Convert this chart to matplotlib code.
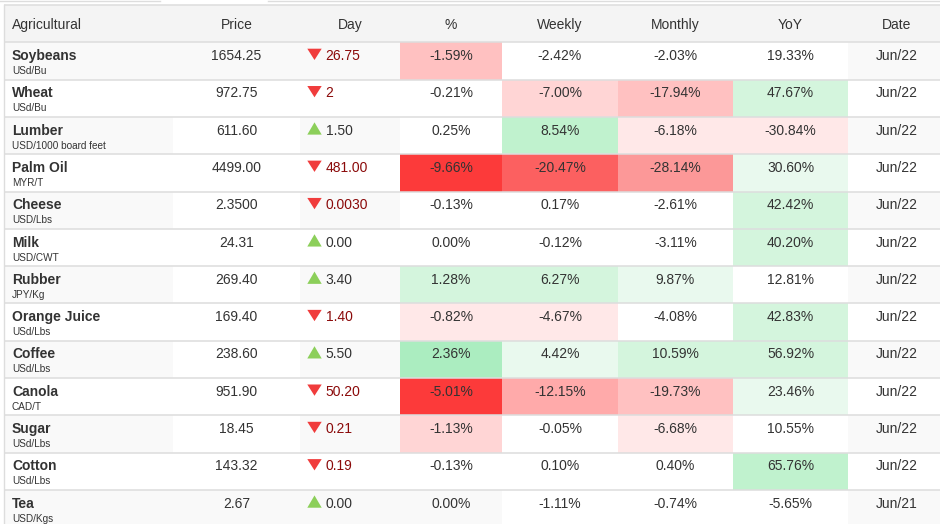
import matplotlib
matplotlib.use("Agg")
import matplotlib.pyplot as plt
from matplotlib.patches import Rectangle, Polygon

plt.rcParams['font.family'] = ['Liberation Sans', 'DejaVu Sans']

# ---------------- data ----------------
headers = ["Agricultural", "Price", "Day", "%", "Weekly", "Monthly", "YoY", "Date"]
names = ["Soybeans", "Wheat", "Lumber", "Palm Oil", "Cheese", "Milk", "Rubber",
         "Orange Juice", "Coffee", "Canola", "Sugar", "Cotton", "Tea"]
units = ["USd/Bu", "USd/Bu", "USD/1000 board feet", "MYR/T", "USD/Lbs", "USD/CWT",
         "JPY/Kg", "USd/Lbs", "USd/Lbs", "CAD/T", "USd/Lbs", "USd/Lbs", "USD/Kgs"]
prices = ["1654.25", "972.75", "611.60", "4499.00", "2.3500", "24.31", "269.40",
          "169.40", "238.60", "951.90", "18.45", "143.32", "2.67"]
day_change = ["-26.75", "-2", "+1.50", "-481.00", "-0.0030", "+0.00", "+3.40",
              "-1.40", "+5.50", "-50.20", "-0.21", "-0.19", "+0.00"]
pct_day = [-1.59, -0.21, 0.25, -9.66, -0.13, 0.00, 1.28, -0.82, 2.36, -5.01, -1.13, -0.13, 0.00]
pct_week = [-2.42, -7.00, 8.54, -20.47, 0.17, -0.12, 6.27, -4.67, 4.42, -12.15, -0.05, 0.10, -1.11]
pct_month = [-2.03, -17.94, -6.18, -28.14, -2.61, -3.11, 9.87, -4.08, 10.59, -19.73, -6.68, 0.40, -0.74]
pct_yoy = [19.33, 47.67, -30.84, 30.60, 42.42, 40.20, 12.81, 42.83, 56.92, 23.46, 10.55, 65.76, -5.65]
dates = ["Jun/22"] * 12 + ["Jun/21"]

# ---------------- layout / style ----------------
W, H = 940, 524
col_edges = [4, 173, 300, 400, 502, 618, 733, 848, 946]
header_top, header_bot = 5, 42.3
row_h = 37.31
TXT = "#333333"
STRIPE = "#f9f9f9"
HEAD_BG = "#f4f4f4"
LINE = "#dddddd"
red_levels = ["#ffffff", "#ffe8e8", "#ffd5d5", "#ffc1c1", "#ffaaaa", "#fc9898",
              "#fc8585", "#fc7272", "#fc6060", "#fc4d4d", "#fc3a3a"]
green_levels = ["#ffffff", "#e9f9ee", "#d4f5dd", "#c0f2ce", "#abedc0"]
pct_steps = [0.5, 2.5, 5.0, 20.0]


def heat(v, step):
    lvl = int(abs(v) / step)
    if v < 0:
        return red_levels[min(lvl, len(red_levels) - 1)]
    return green_levels[min(lvl, len(green_levels) - 1)]


fig = plt.figure(figsize=(W / 100, H / 100), dpi=100)
ax = fig.add_axes([0, 0, 1, 1])
ax.set_xlim(0, W)
ax.set_ylim(H, 0)
ax.axis("off")

# tab bar line at very top
ax.plot([0, 160], [0.6, 0.6], color=LINE, lw=1.0)
ax.plot([268, W], [0.6, 0.6], color=LINE, lw=1.0)

# header
ax.add_patch(Rectangle((col_edges[0], header_top), W - col_edges[0], header_bot - header_top,
                       facecolor=HEAD_BG, edgecolor="none"))
for j, h in enumerate(headers):
    if j == 0:
        ax.text(12, header_top + 24.3, h, ha="left", va="baseline", fontsize=10, color=TXT)
    else:
        cx = (col_edges[j] + col_edges[j + 1]) / 2
        ax.text(cx, header_top + 24.3, h, ha="center", va="baseline", fontsize=10, color=TXT)

pct_cols = [pct_day, pct_week, pct_month, pct_yoy]

for i, name in enumerate(names):
    top = header_bot + i * row_h
    striped = (i % 2 == 0)
    base = top + 17.7
    # background cells
    for j in range(8):
        x0, x1 = col_edges[j], col_edges[j + 1]
        fc = "#ffffff"
        if j in (0, 2, 7):
            fc = STRIPE if striped else "#ffffff"
        elif j == 1:
            fc = STRIPE if (striped and i in (0, len(names) - 1)) else "#ffffff"
        else:
            v = pct_cols[j - 3][i]
            if v == 0:
                fc = STRIPE if striped else "#ffffff"
            else:
                fc = heat(v, pct_steps[j - 3])
        ax.add_patch(Rectangle((x0, top), x1 - x0, row_h, facecolor=fc, edgecolor="none"))
    # name + unit
    ax.text(12, base, name, ha="left", va="baseline", fontsize=10, fontweight="bold", color=TXT)
    ax.text(12, top + 31.7, units[i], ha="left", va="baseline", fontsize=7.2, color=TXT)
    # price
    ax.text((col_edges[1] + col_edges[2]) / 2, base, prices[i], ha="center", va="baseline",
            fontsize=10, color=TXT)
    # day change with triangle
    d = day_change[i]
    down = d.startswith("-")
    tx0, tx1 = 307.3, 321.7
    if down:
        tri = Polygon([[tx0, base - 11.3], [tx1, base - 11.3], [(tx0 + tx1) / 2, base]],
                      closed=True, facecolor="#f03c3c", edgecolor="none")
        col = "#8b0a0a"
    else:
        tri = Polygon([[tx0, base], [tx1, base], [(tx0 + tx1) / 2, base - 12.3]],
                      closed=True, facecolor="#8ccf5a", edgecolor="none")
        col = TXT
    ax.add_patch(tri)
    ax.text(325.7, base, d.lstrip("+-"), ha="left", va="baseline", fontsize=10, color=col)
    # percentage columns
    for k, vals in enumerate(pct_cols):
        j = k + 3
        cx = (col_edges[j] + col_edges[j + 1]) / 2
        ax.text(cx, base, f"{vals[i]:.2f}%", ha="center", va="baseline", fontsize=10, color=TXT)
    # date
    ax.text(897, base, dates[i], ha="center", va="baseline", fontsize=10, color=TXT)

# horizontal grid lines
for i in range(len(names) + 1):
    y = header_bot + i * row_h
    ax.plot([col_edges[0], W], [y, y], color=LINE, lw=1.1, solid_capstyle="butt")
ax.plot([col_edges[0], W], [header_top, header_top], color=LINE, lw=1.1, solid_capstyle="butt")
# left border
ax.plot([3.5, 3.5], [header_top, H], color=LINE, lw=1.0)

fig.savefig("out.png", dpi=100)
